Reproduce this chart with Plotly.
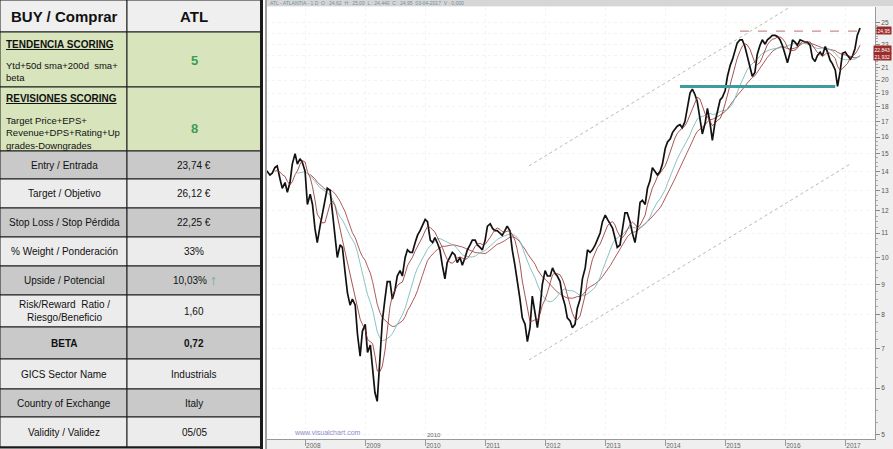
import plotly.graph_objects as go
import pandas as pd
import numpy as np

W, H = 893, 449

# ---------------- DATA ----------------
start_date = "2007-05-01"
close = [
    14.1, 14.0, 13.8, 13.9, 14.2, 14.3, 13.6, 13.1, 13.4, 12.9,
    13.4, 14.4, 15.0, 14.4, 14.7, 14.5, 14.0, 12.3, 12.8, 12.3,
    11.2, 10.6, 11.3, 11.8, 12.4, 13.1, 13.0, 12.0, 10.7, 10.0,
    10.5, 10.4, 9.4, 8.7, 8.3, 8.5, 8.3, 7.4, 6.8, 7.5,
    7.7, 6.9, 7.1, 6.5, 5.9, 5.7, 6.8, 7.8, 8.5, 9.1,
    9.1, 8.5, 8.8, 9.3, 9.5, 9.3, 10.0, 10.3, 10.2, 10.2,
    10.6, 10.9, 11.1, 11.3, 11.6, 11.5, 10.7, 10.6, 10.8, 10.6,
    10.3, 9.7, 9.2, 9.8, 10.0, 10.2, 10.1, 9.8, 10.0, 9.7,
    10.0, 10.3, 10.5, 10.7, 10.7, 10.5, 10.4, 10.3, 10.7, 11.3,
    11.4, 11.2, 11.1, 11.1, 11.0, 10.9, 11.1, 11.3, 11.1, 10.3,
    9.7, 9.2, 8.5, 7.9, 7.7, 7.2, 7.6, 8.6, 8.1, 7.6,
    8.2, 9.0, 9.5, 9.3, 9.3, 9.6, 9.4, 9.3, 9.1, 8.6,
    8.3, 7.9, 7.8, 7.6, 7.7, 8.2, 8.5, 9.2, 9.6, 10.3,
    10.2, 10.3, 10.5, 10.7, 11.0, 11.5, 11.8, 11.6, 11.4, 11.2,
    10.8, 10.4, 10.5, 11.1, 11.9, 11.9, 11.5, 11.0, 10.6, 11.2,
    12.4, 12.5, 12.3, 13.1, 13.5, 14.2, 14.0, 13.8, 14.0, 14.4,
    15.3, 15.7, 15.9, 16.3, 16.5, 16.7, 16.8, 16.6, 17.0, 17.9,
    19.0, 19.3, 18.9, 18.4, 17.2, 16.2, 16.9, 17.9, 16.9, 15.8,
    17.0, 17.8, 18.5, 18.7, 19.2, 20.3, 21.2, 21.7, 22.5, 23.1,
    23.4, 23.4, 22.8, 22.0, 21.2, 20.3, 20.6, 22.1, 22.9, 23.4,
    23.0, 23.4, 23.6, 23.8, 23.8, 23.7, 23.4, 22.9, 22.1, 21.4,
    22.3, 23.4, 23.2, 22.9, 23.4, 23.3, 23.2, 23.2, 22.9, 21.8,
    21.5, 22.0, 22.3, 22.0, 22.8, 22.3, 21.6, 21.3, 20.8, 19.5,
    20.7, 22.2, 22.3, 22.0, 21.7, 22.0, 22.6, 23.8, 24.5,
]
dates = pd.date_range(start_date, periods=len(close), freq="SMS")

# moving-average windows (in half-month periods)
ma_short_win = 5
ma_mid_win = 14
ma_long_win = 19

# drawn lines on the chart
upper_channel_dates = ["2011-09-25", "2016-02-01"]
upper_channel_vals = [14.3, 26.6]
lower_channel_dates = ["2011-09-25", "2017-01-31"]
lower_channel_vals = [6.7, 14.4]
support_dates = ["2014-04-01", "2016-11-01"]
support_vals = [19.5, 19.5]
resist_dates = ["2015-04-01", "2017-04-01"]
resist_vals = [24.2, 24.2]

y_ticks = list(range(5, 26))
y_hidden_labels = [22, 24]          # covered by the price boxes in the original
year_ticks = [f"{y}-01-01" for y in range(2008, 2018)]
price_boxes = ["24,95", "22,843", "21,932"]

# table
header_left = "BUY / Comprar"
header_right = "ATL"
tend_title = "TENDENCIA SCORING"
tend_text = "Ytd+50d sma+200d  sma+<br>beta"
tend_score = "5"
rev_title = "REVISIONES SCORING"
rev_text = "Target Price+EPS+<br>Revenue+DPS+Rating+Up<br>grades-Downgrades"
rev_score = "8"
row_labels = ["Entry / Entrada", "Target / Objetivo", "Stop Loss / Stop Pérdida",
              "% Weight / Ponderación", "Upside / Potencial",
              "Risk/Reward  Ratio /<br>Riesgo/Beneficio", "<b>BETA</b>",
              "GICS Sector Name", "Country of Exchange", "Validity / Validez"]
row_values = ["23,74 €", "26,12 €", "22,25 €", "33%",
              "10,03%", "1,60", "<b>0,72</b>",
              "Industrials", "Italy", "05/05"]
upside_arrow = "↑"

# ---------------- FIGURE ----------------
s = pd.Series(close, index=dates)
ma_short = s.rolling(ma_short_win).mean()
ma_mid = s.rolling(ma_mid_win).mean()
ma_long = s.rolling(ma_long_win).mean()

fig = go.Figure()

for xs, ys in [(upper_channel_dates, upper_channel_vals), (lower_channel_dates, lower_channel_vals)]:
    fig.add_trace(go.Scatter(x=xs, y=ys, mode="lines",
                             line=dict(color="#b8b8b8", width=1, dash="dot"), hoverinfo="skip"))

fig.add_trace(go.Scatter(x=dates, y=ma_long, mode="lines", line=dict(color="#a8474a", width=0.9)))
fig.add_trace(go.Scatter(x=dates, y=ma_mid, mode="lines", line=dict(color="#7fbcbc", width=0.9)))
fig.add_trace(go.Scatter(x=dates, y=s, mode="lines", line=dict(color="#111111", width=1.7)))
fig.add_trace(go.Scatter(x=dates, y=ma_short, mode="lines", line=dict(color="#8e2a2a", width=0.8)))

fig.add_trace(go.Scatter(x=support_dates, y=support_vals, mode="lines",
                         line=dict(color="#3f9c9c", width=3)))
fig.add_trace(go.Scatter(x=resist_dates, y=resist_vals, mode="lines",
                         line=dict(color="#c98d8d", width=1.2, dash="dash")))


def fx(x):
    return x / W


def fy(y):
    return 1 - y / H


shapes = []
annots = []

# chart background pieces
shapes.append(dict(type="rect", xref="paper", yref="paper", x0=fx(262), x1=fx(266),
                   y0=fy(449), y1=fy(0), fillcolor="white", line=dict(width=0), layer="below"))
shapes.append(dict(type="rect", xref="paper", yref="paper", x0=fx(266), x1=fx(893),
                   y0=fy(6), y1=fy(0), fillcolor="#d6d6d6", line=dict(width=0)))
shapes.append(dict(type="line", xref="paper", yref="paper", x0=fx(266), x1=fx(266),
                   y0=fy(449), y1=fy(0), line=dict(color="#a0a0a0", width=2)))

annots.append(dict(xref="paper", yref="paper", x=fx(268), y=fy(3), xanchor="left", yanchor="middle",
                   text="ATL - ATLANTIA - 1 D  O : 24,62  H : 25,00  L : 24,440  C : 24,95  03-04-2017  V : 0,000",
                   showarrow=False, font=dict(size=5, color="#6f8f9f", family="Liberation Sans")))
annots.append(dict(xref="paper", yref="paper", x=fx(292), y=fy(432), xanchor="left", yanchor="middle",
                   text="www.visualchart.com", showarrow=False,
                   font=dict(size=7, color="#8c8cc8", family="Liberation Sans")))
annots.append(dict(xref="paper", yref="paper", x=fx(425), y=fy(435), xanchor="left", yanchor="middle",
                   text="2010", showarrow=False,
                   font=dict(size=6, color="#666", family="Liberation Sans")))
for txt, py in zip(price_boxes, [30, 49.5, 57]):
    annots.append(dict(xref="paper", yref="paper", x=fx(892), y=fy(py), xanchor="right", yanchor="middle",
                       text=txt, showarrow=False, bgcolor="#9c2b2b", borderpad=0.5,
                       font=dict(size=5, color="white", family="Liberation Sans")))

# ---------------- TABLE ----------------
col_x = [0, 127, 261]
GREEN = "#d8e4bc"
GRAY = "#c9c9c9"
LIGHT = "#ececec"
HEAD = "#efefef"
FONT = "Liberation Sans, Arial"


def cell(x0, y0, x1, y1, fill):
    shapes.append(dict(type="rect", xref="paper", yref="paper", x0=fx(x0), x1=fx(x1),
                       y0=fy(y1), y1=fy(y0), fillcolor=fill, line=dict(color="#1a1a1a", width=1)))


def text(x, y, t, size=10, anchor="center", color="#111", yanchor="middle"):
    annots.append(dict(xref="paper", yref="paper", x=fx(x), y=fy(y), xanchor=anchor, yanchor=yanchor,
                       text=t, showarrow=False, align="left" if anchor == "left" else "center",
                       font=dict(size=size, color=color, family=FONT)))


# header
cell(col_x[0], 0, col_x[1], 32, HEAD)
cell(col_x[1], 0, col_x[2], 32, HEAD)
text(64, 16, f"<b>{header_left}</b>", size=15)
text(194, 16, f"<b>{header_right}</b>", size=15)

# scoring rows
cell(col_x[0], 32, col_x[1], 87, GREEN)
cell(col_x[1], 32, col_x[2], 87, GREEN)
cell(col_x[0], 87, col_x[1], 151, GREEN)
cell(col_x[1], 87, col_x[2], 151, GREEN)
text(4, 44, f"<b><u>{tend_title}</u></b>", size=10, anchor="left")
text(4, 58, tend_text, size=9.5, anchor="left", yanchor="top")
text(194, 60, f"<b>{tend_score}</b>", size=13, color="#3f9a55")
text(4, 99, f"<b><u>{rev_title}</u></b>", size=10, anchor="left")
text(4, 113, rev_text, size=9.5, anchor="left", yanchor="top")
text(194, 128, f"<b>{rev_score}</b>", size=13, color="#3f9a55")

row_edges = [151, 179, 208, 237, 266, 295, 327, 359, 389, 417, 447]
for i, (lab, val) in enumerate(zip(row_labels, row_values)):
    y0, y1 = row_edges[i], row_edges[i + 1]
    fill = GRAY if i % 2 == 0 else LIGHT
    cell(col_x[0], y0, col_x[1], y1, fill)
    cell(col_x[1], y0, col_x[2], y1, fill)
    text(64, (y0 + y1) / 2, lab, size=10)
    text(190 if i == 4 else 194, (y0 + y1) / 2, val, size=10)
# green arrow after the upside value
text(213, 280, f"<b>{upside_arrow}</b>", size=14, color="#6aac7e")

# thick outer borders
shapes.append(dict(type="line", xref="paper", yref="paper", x0=fx(261.5), x1=fx(261.5),
                   y0=fy(449), y1=fy(0), line=dict(color="#1a1a1a", width=3)))
shapes.append(dict(type="line", xref="paper", yref="paper", x0=fx(0), x1=fx(262),
                   y0=fy(447.5), y1=fy(447.5), line=dict(color="#1a1a1a", width=2)))

# ---------------- LAYOUT ----------------
fig.update_layout(
    width=W, height=H,
    margin=dict(l=0, r=0, t=0, b=0),
    paper_bgcolor="#efefef",
    plot_bgcolor="white",
    showlegend=False,
    shapes=shapes,
    annotations=annots,
    xaxis=dict(
        domain=[266 / W, 875 / W],
        type="date",
        range=["2007-05-08", "2017-07-01"],
        tickvals=year_ticks,
        tickformat="%Y",
        ticklabelposition="outside right",
        ticks="outside", ticklen=6, tickcolor="#999",
        tickfont=dict(size=6.5, color="#666", family="Liberation Sans"),
        showline=True, linecolor="#999", linewidth=1,
        showgrid=True, gridcolor="#f4f4f4", griddash="dot",
        zeroline=False,
    ),
    yaxis=dict(
        domain=[(H - 439) / H, (H - 7) / H],
        type="log",
        side="right",
        range=[np.log10(4.92), np.log10(26.6)],
        tickvals=y_ticks,
        ticktext=["" if v in y_hidden_labels else str(v) for v in y_ticks],
        ticks="outside", ticklen=4, tickcolor="#888",
        tickfont=dict(size=6.5, color="#555", family="Liberation Sans"),
        showline=True, linecolor="#999", linewidth=1,
        showgrid=True, gridcolor="#f4f4f4", griddash="dot",
        zeroline=False,
        minor=dict(ticks="outside", ticklen=2, tickcolor="#aaa",
                   tickvals=[v + f for v in range(5, 25) for f in (0.25, 0.5, 0.75)]),
    ),
)

fig.write_html("out.html",
               config={"displayModeBar": False},
               post_script="document.body.style.margin='0px';document.body.style.padding='0px';"
                           "document.body.style.overflow='hidden';")
